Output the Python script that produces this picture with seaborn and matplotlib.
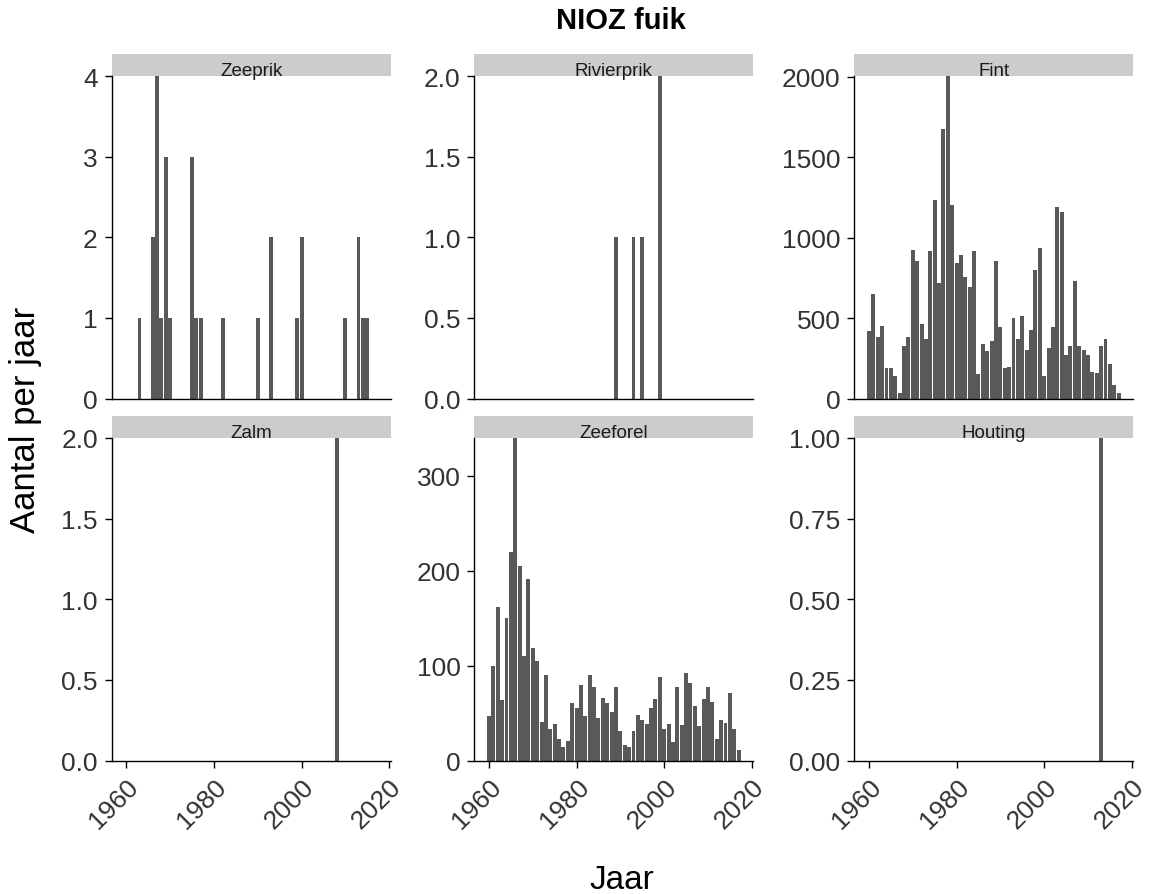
import pandas as pd
import matplotlib
matplotlib.use("Agg")
import matplotlib.pyplot as plt
from matplotlib.patches import Rectangle
from matplotlib.ticker import MultipleLocator, FormatStrFormatter
import seaborn as sns

# =========================
# DATA
# =========================

soorten = ["Zeeprik", "Rivierprik", "Fint", "Zalm", "Zeeforel", "Houting"]

zeeprik_jaar = [1963, 1966, 1967, 1968, 1969, 1970, 1975, 1976, 1977, 1982,
                1990, 1993, 1999, 2000, 2010, 2013, 2014, 2015]
zeeprik_n = [1, 2, 4, 1, 3, 1, 3, 1, 1, 1, 1, 2, 1, 2, 1, 2, 1, 1]

rivierprik_jaar = [1989, 1993, 1995, 1999]
rivierprik_n = [1, 1, 1, 2]

fint_jaar = list(range(1960, 2018))
fint_n = [417, 650, 381, 454, 187, 187, 142, 37, 325, 381,
          925, 858, 462, 371, 917, 1235, 717, 1677, 2006, 1204,
          844, 892, 754, 696, 917, 152, 337, 294, 360, 858,
          442, 187, 198, 500, 373, 512, 302, 429, 800, 938,
          142, 315, 442, 1192, 1158, 269, 329, 731, 329, 304,
          269, 167, 156, 325, 371, 212, 83, 37]

zalm_jaar = [2008]
zalm_n = [2]

zeeforel_jaar = list(range(1960, 2018))
zeeforel_n = [47, 100, 162, 64, 150, 220, 340, 205, 110, 191,
              119, 105, 41, 90, 33, 39, 23, 14, 21, 61,
              55, 80, 47, 90, 78, 45, 66, 61, 51, 77,
              31, 16, 14, 31, 48, 43, 39, 55, 65, 88,
              33, 39, 20, 78, 37, 92, 82, 57, 36, 65,
              77, 62, 23, 43, 40, 71, 33, 11]

houting_jaar = [2013]
houting_n = [1]

# y tick step and decimals per panel
y_step = {"Zeeprik": 1, "Rivierprik": 0.5, "Fint": 500,
          "Zalm": 0.5, "Zeeforel": 100, "Houting": 0.25}
y_fmt = {"Zeeprik": "%.0f", "Rivierprik": "%.1f", "Fint": "%.0f",
         "Zalm": "%.1f", "Zeeforel": "%.0f", "Houting": "%.2f"}

x_ticks = [1960, 1980, 2000, 2020]

# =========================
# LONG TABLE
# =========================

parts = []
for naam, jaar, n in [("Zeeprik", zeeprik_jaar, zeeprik_n),
                      ("Rivierprik", rivierprik_jaar, rivierprik_n),
                      ("Fint", fint_jaar, fint_n),
                      ("Zalm", zalm_jaar, zalm_n),
                      ("Zeeforel", zeeforel_jaar, zeeforel_n),
                      ("Houting", houting_jaar, houting_n)]:
    parts.append(pd.DataFrame({"soort": naam, "jaar": jaar, "aantal": n}))
df = pd.concat(parts, ignore_index=True)

# =========================
# PLOT
# =========================

sns.set_style("ticks")
plt.rcParams["font.family"] = ["Liberation Sans", "DejaVu Sans"]

W, H = 1155, 895
bar_color = "#595959"
txt_color = "#333333"

g = sns.FacetGrid(df, col="soort", col_wrap=3, col_order=soorten,
                  sharex=True, sharey=False, height=3, aspect=1)
g.map_dataframe(sns.histplot, x="jaar", weights="aantal", discrete=True,
                shrink=0.9, color=bar_color, alpha=1, linewidth=0,
                edgecolor="none")
g.set_titles("")
g.set_axis_labels("", "")

fig = g.figure
fig.set_size_inches(W / 100, H / 100)
fig.set_dpi(100)

col_left = [111.7, 474.3, 854.3]
row_top = [77, 439]
pw, ph = 279, 322.5
strip_h = 22

for i, naam in enumerate(soorten):
    ax = g.axes_dict[naam]
    r, c = divmod(i, 3)
    ax.set_position([col_left[c] / W, 1 - (row_top[r] + ph) / H, pw / W, ph / H])

    ymax = df.loc[df["soort"] == naam, "aantal"].max()
    ax.set_ylim(0, ymax)
    ax.set_xlim(1956.65, 2020.35)
    ax.yaxis.set_major_locator(MultipleLocator(y_step[naam]))
    ax.yaxis.set_major_formatter(FormatStrFormatter(y_fmt[naam]))
    ax.set_xticks(x_ticks)

    for s in ["left", "bottom"]:
        ax.spines[s].set_linewidth(1.0)
        ax.spines[s].set_color("black")
    sns.despine(ax=ax)

    ax.tick_params(axis="y", length=5, width=1, pad=5, labelsize=19,
                   labelcolor=txt_color, color="black")
    if r == 0:
        ax.tick_params(axis="x", length=0, labelbottom=False)
    else:
        ax.tick_params(axis="x", length=5, width=1, pad=5, labelsize=19,
                       labelcolor=txt_color, color="black", labelbottom=True)
        for lab in ax.get_xticklabels():
            lab.set_rotation(45)
            lab.set_ha("right")
            lab.set_va("top")
            lab.set_rotation_mode("anchor")

    # facet strip
    ax.add_patch(Rectangle((0, 1), 1, strip_h / ph, transform=ax.transAxes,
                           facecolor="#CCCCCC", edgecolor="none", clip_on=False,
                           zorder=0))
    ax.text(0.5, 1.002, naam, transform=ax.transAxes, ha="center",
            va="baseline", fontsize=13.5, color="#1A1A1A")
    ax.set_xlabel("")
    ax.set_ylabel("")

fig.text(621 / W, 1 - 29 / H, "NIOZ fuik", ha="center", va="baseline",
         fontsize=21, fontweight="bold", color="black")
fig.text(26 / W, 1 - 420 / H, "Aantal per jaar", rotation=90, ha="center",
         va="center", fontsize=25, color="black")
fig.text(622 / W, 1 - 889 / H, "Jaar", ha="center", va="baseline",
         fontsize=24, color="black")

fig.savefig("out.png", dpi=100)
